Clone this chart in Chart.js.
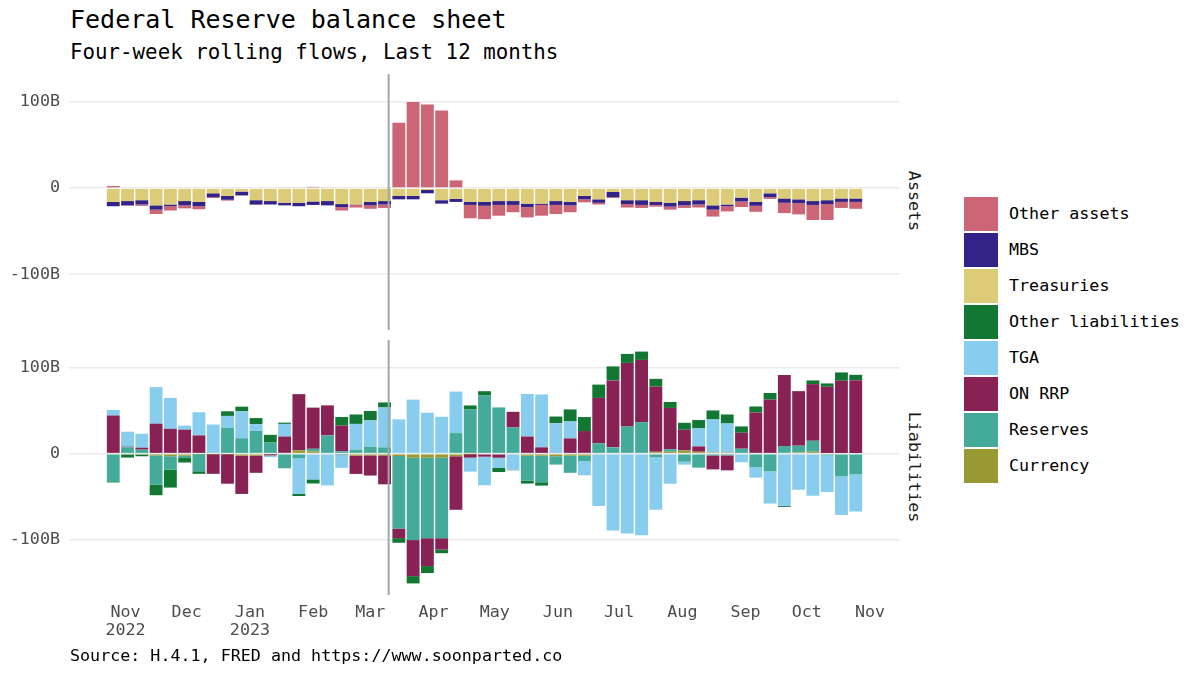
<!DOCTYPE html>
<html>
<head>
<meta charset="utf-8">
<script src="https://cdn.jsdelivr.net/npm/chart.js@4.4.0/dist/chart.umd.min.js"></script>
<style>
body { margin: 0; width: 1200px; height: 675px; background: #fff; position: relative; overflow: hidden;
       font-family: "DejaVu Sans Mono", monospace; color: #000; }
.txt { position: absolute; line-height: 1; white-space: nowrap; }
#title { left: 70px; top: 7px; font-size: 25px; }
#subtitle { left: 70px; top: 42px; font-size: 20.8px; }
#caption { left: 70px; top: 647px; font-size: 16.7px; }
.strip { position: absolute; font-size: 16.7px; color: #1a1a1a; white-space: nowrap;
         transform: translate(-50%, -50%) rotate(90deg); line-height: 1; }
#topWrap { position: absolute; left: 0; top: 74px; width: 900px; height: 256px; }
#botWrap { position: absolute; left: 0; top: 340px; width: 900px; height: 311px; }
#legend { position: absolute; left: 964px; top: 197px; }
.key { height: 36px; position: relative; }
.key span.box { position: absolute; left: 0; top: 0; width: 34px; height: 34px; }
.key span.lab { position: absolute; left: 45px; top: 8px; font-size: 16.7px; line-height: 1; white-space: nowrap; }
</style>
</head>
<body>
<div id="title" class="txt">Federal Reserve balance sheet</div>
<div id="subtitle" class="txt">Four-week rolling flows, Last 12 months</div>
<div id="topWrap"><canvas id="assetsChart"></canvas></div>
<div id="botWrap"><canvas id="liabChart"></canvas></div>
<div class="strip" style="left:915px; top:201px;">Assets</div>
<div class="strip" style="left:915px; top:467px;">Liabilities</div>
<div id="legend"></div>
<div id="caption" class="txt">Source: H.4.1, FRED and https://www.soonparted.co</div>
<script>
// weekly H.4.1 dates (Wednesdays)
var weekDates = ['2022-10-26','2022-11-02','2022-11-09','2022-11-16','2022-11-23','2022-11-30',
    '2022-12-07','2022-12-14','2022-12-21','2022-12-28','2023-01-04','2023-01-11','2023-01-18','2023-01-25',
    '2023-02-01','2023-02-08','2023-02-15','2023-02-22','2023-03-01','2023-03-08','2023-03-15','2023-03-22',
    '2023-03-29','2023-04-05','2023-04-12','2023-04-19','2023-04-26','2023-05-03','2023-05-10','2023-05-17',
    '2023-05-24','2023-05-31','2023-06-07','2023-06-14','2023-06-21','2023-06-28','2023-07-05','2023-07-12',
    '2023-07-19','2023-07-26','2023-08-02','2023-08-09','2023-08-16','2023-08-23','2023-08-30','2023-09-06',
    '2023-09-13','2023-09-20','2023-09-27','2023-10-04','2023-10-11','2023-10-18','2023-10-25'];
var monthTicks = ['2022-11-01','2022-12-01','2023-01-01','2023-02-01','2023-03-01','2023-04-01','2023-05-01',
    '2023-06-01','2023-07-01','2023-08-01','2023-09-01','2023-10-01','2023-11-01'];
var monthLabels = [['Nov','2022'],'Dec',['Jan','2023'],'Feb','Mar','Apr','May','Jun','Jul','Aug','Sep','Oct','Nov'];
var markerDate = '2023-03-10';
var yTicks = [-100, 0, 100];

// assets, billions
var treasuries = [-16,-15,-14,-20,-19,-15,-16,-6,-9,-4,-14,-15,-17,-17,-15.5,-15,-18.5,-19,-16,-15,-9,-9,-2,-14,
    -12.5,-16,-16,-15,-15,-18,-18,-15,-16,-9,-13,-4.5,-14,-14,-16,-17,-15,-14,-20,-19,-11,-16,-6,-12,-13,-15,-14,-12,-12];
var mbs = [-5,-5,-5,-5,-2,-5,-5,-4.5,-4.5,-4.5,-5,-4,-3,-4,-4,-5,-3.5,-0.5,-4,-4,-4,-4,-4,-4,-3.5,-3.5,-4.5,-4.5,
    -4.5,-4,-1.5,-4.5,-4,-4,-4,-6,-4.5,-5.5,-3.5,-4.5,-5,-5,-5,-2,-4.5,-4.5,-4.5,-5,-4.5,-4.5,-4.5,-4,-4];
var otherAssets = [2.5,-0.5,-1.5,-5,-5,-3.5,-3.5,-1,-1,0,-0.5,0,1,1,1.5,1,-4,-3,-4,-4,76,100,97,90,9,-15.5,-15.5,
    -12.5,-8.5,-12,-12.5,-10.5,-8,-3.5,-2,-1,-4,-3.5,-2,-3.5,-3,-3.5,-8,-6,-6.5,-7,-2,-12,-13,-17.5,-18.5,-7,-8];

// liabilities, billions
var currency = [-1,-1,-1,-2,-3,-2.3,-0.5,-0.5,-0.5,-2.3,-2.3,-0.5,1,3.9,2.7,0,-0.5,-2.3,-2,-2,-2.7,-4.7,-4.7,-4.7,
    -3,-0.3,0,0,-1,-2.3,-2.3,-3,-2.3,-2.3,0,0,0,0,2.3,2.3,3.9,2.3,1.5,1.5,0,0,0,1,1.5,2.3,0,0,0];
var reserves = [-32,7.4,4.7,-34,-15.5,-2,-20,1,30,18,26.7,13,-17,-5,3,21.3,2.7,4.7,7.8,7.4,-84.5,-96,-93.8,-93.8,
    24,51.5,67.8,53.9,30.6,-29,-31,-9.7,-20,-6.6,12,7.4,31.8,36.8,-4.3,3,-9.3,-16.3,-2,-2,5.8,-15.9,-20.5,7.8,7.8,
    12.8,-2,-26.4,-24];
var onRrp = [44.5,0.8,2.3,35,29,28,21.3,-23,-34.5,-44.6,-20,-1.5,19,65.5,48,35,30,-21.3,-23.5,-33.7,-11.2,-42,
    -32.5,-13.2,-62.4,-4.3,-3.5,-4.7,18.2,20,7.4,1,17.8,26.4,53,78,74,72.5,76,48,24,6.2,-16.3,-17.4,18.6,48,63,83,
    63.6,66,78,85,85.7];
var tga = [6.5,17.4,16.3,42.6,36,4.7,27,33,14,31.4,7.8,-2,14.7,-42,-30,-37,-16,30,31,46.5,40,63,47.7,43,48.4,-16.3,
    -33.3,-12,-17.8,49.6,61.6,34.5,19.8,-16.3,-61,-89.5,-93,-95,-61,-35,-3.5,21,38.4,33.7,-10,-12,-37.6,-61,-42,-49,
    -42.6,-45,-43.4];
var otherLiabilities = [-0.5,-3.5,-2,-12.4,-21,-6,-3,0,5.4,5.4,7,9,1.5,-2.3,-4.7,0,10,11,11,5.8,-5.4,-8.5,-8.1,
    -4.3,0,4.7,5,-4.7,-0.5,-3.5,-3.9,7.8,14,16.3,15.5,16.3,10.5,9.7,8.9,7,8.1,9.7,10.5,10.5,7.4,7,7.8,-1,0,4.3,3.9,
    9.7,6.2];

var colors = {
    'Other assets': '#CC6677', 'MBS': '#332288', 'Treasuries': '#DDCC77', 'Other liabilities': '#117733',
    'TGA': '#88CCEE', 'ON RRP': '#882255', 'Reserves': '#44AA99', 'Currency': '#999933'
};
var legendOrder = ['Other assets','MBS','Treasuries','Other liabilities','TGA','ON RRP','Reserves','Currency'];

function dayOf(s) {
    return (Date.parse(s) - Date.parse('2022-11-01')) / 864e5;
}
var weekDays = weekDates.map(dayOf);
var tickDays = monthTicks.map(dayOf);

function series(label, values) {
    return {
        label: label,
        data: weekDays.map(function(d, i) { return {x: d, y: values[i]}; }),
        backgroundColor: colors[label],
        borderWidth: 0,
        stack: 'flows',
        barPercentage: 0.9,
        categoryPercentage: 1.0
    };
}

Chart.defaults.font.family = '"DejaVu Sans Mono", monospace';
Chart.defaults.font.size = 16.7;
Chart.defaults.color = '#4d4d4d';

var markerLine = {
    id: 'markerLine',
    afterDatasetsDraw: function(chart) {
        var ctx = chart.ctx, area = chart.chartArea;
        var x = chart.scales.x.getPixelForValue(dayOf(markerDate));
        ctx.save();
        ctx.strokeStyle = '#9ea8a8';
        ctx.lineWidth = 2;
        ctx.beginPath();
        ctx.moveTo(x, area.top);
        ctx.lineTo(x, area.bottom);
        ctx.stroke();
        ctx.restore();
    }
};

function makeOptions(showX) {
    return {
        responsive: true,
        maintainAspectRatio: false,
        animation: false,
        layout: { padding: 0 },
        plugins: { legend: { display: false }, tooltip: { enabled: false } },
        scales: {
            x: {
                type: 'linear',
                display: showX,
                offset: false,
                min: -27.7,
                max: 379.7,
                grid: { display: false },
                border: { display: false },
                afterBuildTicks: function(scale) {
                    scale.ticks = tickDays.map(function(v) { return {value: v}; });
                },
                afterFit: function(scale) {
                    if (showX) { scale.height = 56; }
                    scale.paddingLeft = 0;
                    scale.paddingRight = 0;
                },
                ticks: {
                    autoSkip: false,
                    maxRotation: 0,
                    padding: 0,
                    font: { lineHeight: 1.12 },
                    callback: function(v, i) { return monthLabels[i]; }
                }
            },
            y: {
                stacked: true,
                min: -164.7,
                max: 132.5,
                border: { display: false },
                grid: { color: '#ebebeb', lineWidth: 1.6, drawTicks: false },
                afterBuildTicks: function(scale) {
                    scale.ticks = yTicks.map(function(v) { return {value: v}; });
                },
                afterFit: function(scale) {
                    scale.width = 69;
                    scale.paddingTop = 0;
                    scale.paddingBottom = 0;
                },
                ticks: {
                    padding: 9,
                    callback: function(v) { return v === 0 ? '0' : v + 'B'; }
                }
            }
        }
    };
}

new Chart(document.getElementById('assetsChart'), {
    type: 'bar',
    data: {
        datasets: [
            series('Treasuries', treasuries),
            series('MBS', mbs),
            series('Other assets', otherAssets)
        ]
    },
    options: makeOptions(false),
    plugins: [markerLine]
});

new Chart(document.getElementById('liabChart'), {
    type: 'bar',
    data: {
        datasets: [
            series('Currency', currency),
            series('Reserves', reserves),
            series('ON RRP', onRrp),
            series('TGA', tga),
            series('Other liabilities', otherLiabilities)
        ]
    },
    options: makeOptions(true),
    plugins: [markerLine]
});

var legend = document.getElementById('legend');
legendOrder.forEach(function(name) {
    var row = document.createElement('div');
    row.className = 'key';
    row.innerHTML = '<span class="box" style="background:' + colors[name] + '"></span><span class="lab">' + name + '</span>';
    legend.appendChild(row);
});
</script>
</body>
</html>
